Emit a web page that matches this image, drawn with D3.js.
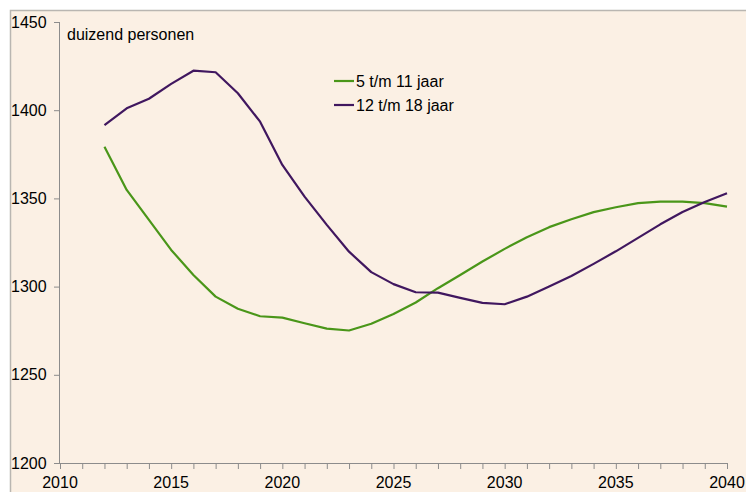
<!DOCTYPE html>
<html>
<head>
<meta charset="utf-8">
<script src="https://cdn.jsdelivr.net/npm/d3@7"></script>
<style>
  body { margin: 0; background: #fff; }
  svg { display: block; font-family: "Liberation Sans", Arial, sans-serif; }
</style>
</head>
<body>
<div id="chart"></div>
<script>
// data (duizend personen)
const years = d3.range(2012, 2041);
const group5to11 = [1379.3, 1354.8, 1337.8, 1320.8, 1306.6, 1294.3, 1287.4, 1283.2, 1282.4, 1279.2,
  1276.2, 1275.1, 1278.9, 1284.5, 1291.0, 1299.1, 1306.6, 1314.2, 1321.4, 1328.0,
  1333.7, 1338.2, 1342.2, 1345.0, 1347.3, 1348.2, 1348.2, 1347.3, 1345.3];
const group12to18 = [1391.6, 1401.1, 1406.5, 1414.9, 1422.4, 1421.5, 1409.6, 1393.5, 1369.0, 1351.0,
  1335.0, 1319.8, 1308.2, 1301.4, 1296.8, 1296.6, 1293.6, 1290.8, 1290.0, 1294.3,
  1300.0, 1306.0, 1312.9, 1320.0, 1327.6, 1335.3, 1342.3, 1348.0, 1352.9];
const seriesNames = ["5 t/m 11 jaar", "12 t/m 18 jaar"];
const seriesColors = ["#4a9619", "#40175f"];
const yTicks = [1200, 1250, 1300, 1350, 1400, 1450];
const xTicks = [2010, 2015, 2020, 2025, 2030, 2035, 2040];

const width = 746, height = 492;
const margin = { top: 22, right: 19, bottom: 29, left: 60 };

const svg = d3.select("#chart").append("svg")
  .attr("width", width)
  .attr("height", height);

// chart area background + frame
svg.append("rect")
  .attr("x", 10.5).attr("y", 10.5)
  .attr("width", width).attr("height", height)
  .attr("fill", "#fbf0e4")
  .attr("stroke", "#b9b6b1")
  .attr("stroke-width", 1.5);

const x = d3.scaleLinear().domain([2010, 2040]).range([margin.left, width - margin.right]);
const y = d3.scaleLinear().domain([1200, 1450]).range([height - margin.bottom, margin.top]);

// y axis
svg.append("g")
  .attr("transform", `translate(${margin.left},0)`)
  .call(d3.axisLeft(y).tickValues(yTicks).tickSize(6).tickFormat(d => d))
  .call(g => g.selectAll("line, path").attr("stroke", "#8c8c8c"))
  .call(g => g.select(".domain").attr("d", `M-0.5,${y(1450)}V${y(1200)}`))
  .call(g => g.selectAll("text")
    .attr("x", -49).attr("text-anchor", "start")
    .attr("fill", "#000").style("font-size", "16px"));

// x axis, minor ticks every year
svg.append("g")
  .attr("transform", `translate(0,${y(1200)})`)
  .call(d3.axisBottom(x).tickValues(d3.range(2010, 2041)).tickSize(6).tickSizeOuter(0).tickFormat(""))
  .call(g => g.selectAll("line, path").attr("stroke", "#8c8c8c"));

svg.append("g")
  .selectAll("text")
  .data(xTicks)
  .join("text")
  .attr("x", d => x(d))
  .attr("y", height - 4)
  .attr("text-anchor", "middle")
  .style("font-size", "16px")
  .text(d => d);

svg.append("text")
  .attr("x", 67).attr("y", 40)
  .style("font-size", "16px")
  .text("duizend personen");

// lines
const line = d3.line()
  .x((d, i) => x(years[i]))
  .y(d => y(d));

svg.append("g")
  .attr("fill", "none")
  .attr("stroke-width", 2.2)
  .attr("stroke-linejoin", "round")
  .selectAll("path")
  .data([group5to11, group12to18])
  .join("path")
  .attr("stroke", (d, i) => seriesColors[i])
  .attr("d", line);

// legend
const legend = svg.append("g")
  .selectAll("g")
  .data(seriesNames)
  .join("g")
  .attr("transform", (d, i) => `translate(334,${81 + i * 24})`);

legend.append("line")
  .attr("x2", 20)
  .attr("stroke", (d, i) => seriesColors[i])
  .attr("stroke-width", 2.2);

legend.append("text")
  .attr("x", 22)
  .attr("dy", "0.35em")
  .style("font-size", "16px")
  .text(d => d);
</script>
</body>
</html>
